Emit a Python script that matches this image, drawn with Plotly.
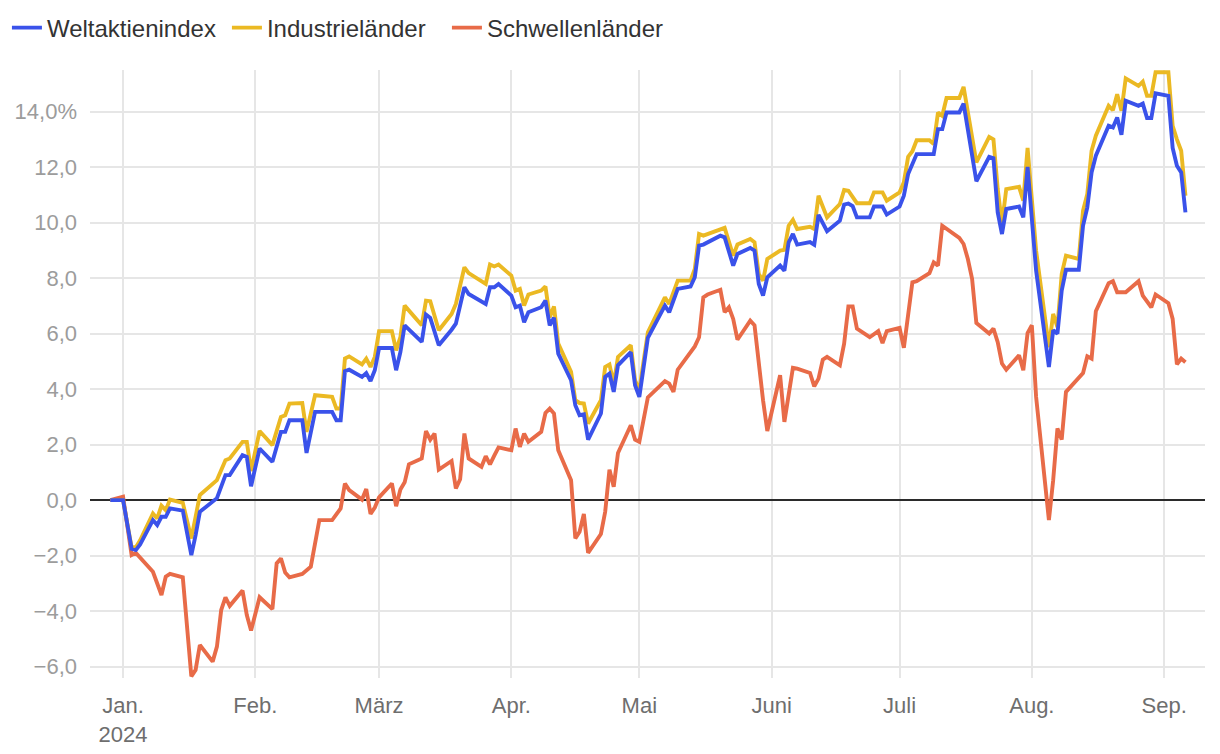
import plotly.graph_objects as go

# ---- data (percent change since end of 2023) ----
dates_dm = [
    "2023-12-29", "2024-01-01", "2024-01-03", "2024-01-04", "2024-01-05", "2024-01-08", "2024-01-09",
    "2024-01-10", "2024-01-11", "2024-01-12", "2024-01-15", "2024-01-17", "2024-01-18", "2024-01-19",
    "2024-01-23", "2024-01-25", "2024-01-26", "2024-01-29", "2024-01-30", "2024-01-31",
    "2024-02-02", "2024-02-05", "2024-02-07", "2024-02-08", "2024-02-09", "2024-02-12", "2024-02-13",
    "2024-02-15", "2024-02-19", "2024-02-20", "2024-02-21", "2024-02-22", "2024-02-23", "2024-02-26",
    "2024-02-27", "2024-02-28", "2024-02-29",
    "2024-03-01", "2024-03-04", "2024-03-05", "2024-03-06", "2024-03-07", "2024-03-11", "2024-03-12",
    "2024-03-13", "2024-03-15", "2024-03-18", "2024-03-19", "2024-03-21", "2024-03-22", "2024-03-26",
    "2024-03-27", "2024-03-28", "2024-03-29",
    "2024-04-01", "2024-04-02", "2024-04-03", "2024-04-04", "2024-04-05", "2024-04-08", "2024-04-09",
    "2024-04-10", "2024-04-11", "2024-04-12", "2024-04-15", "2024-04-16", "2024-04-17", "2024-04-18",
    "2024-04-19", "2024-04-22", "2024-04-23", "2024-04-24", "2024-04-25", "2024-04-26", "2024-04-29",
    "2024-04-30",
    "2024-05-01", "2024-05-03", "2024-05-07", "2024-05-08", "2024-05-10", "2024-05-13", "2024-05-14",
    "2024-05-15", "2024-05-16", "2024-05-20", "2024-05-21", "2024-05-23", "2024-05-24", "2024-05-27",
    "2024-05-28", "2024-05-29", "2024-05-30", "2024-05-31",
    "2024-06-03", "2024-06-04", "2024-06-05", "2024-06-06", "2024-06-07", "2024-06-10", "2024-06-11",
    "2024-06-12", "2024-06-14", "2024-06-17", "2024-06-18", "2024-06-19", "2024-06-20", "2024-06-21",
    "2024-06-24", "2024-06-25", "2024-06-27", "2024-06-28",
    "2024-07-01", "2024-07-02", "2024-07-03", "2024-07-04", "2024-07-05", "2024-07-08", "2024-07-09",
    "2024-07-10", "2024-07-11", "2024-07-12", "2024-07-15", "2024-07-16", "2024-07-19", "2024-07-22",
    "2024-07-23", "2024-07-24", "2024-07-25", "2024-07-26", "2024-07-29", "2024-07-30", "2024-07-31",
    "2024-08-02", "2024-08-05", "2024-08-06", "2024-08-07", "2024-08-08", "2024-08-09", "2024-08-12",
    "2024-08-13", "2024-08-14", "2024-08-15", "2024-08-16", "2024-08-19", "2024-08-20", "2024-08-21",
    "2024-08-22", "2024-08-23", "2024-08-26", "2024-08-27", "2024-08-28", "2024-08-29", "2024-08-30",
    "2024-09-02", "2024-09-03", "2024-09-04", "2024-09-05", "2024-09-06",
]

welt = [
    0.0, 0.0, -1.75, -1.8, -1.6, -0.72, -0.9,
    -0.6, -0.6, -0.3, -0.38, -1.98, -1.26, -0.42,
    0.07, 0.9, 0.9, 1.62, 1.56, 0.5,
    1.86, 1.38, 2.46, 2.46, 2.88, 2.88, 1.70,
    3.18, 3.18, 2.88, 2.88, 4.65, 4.70, 4.44,
    4.58, 4.29, 4.68,
    5.48, 5.48, 4.68, 5.33, 6.3, 5.7, 6.69,
    6.57, 5.58, 6.14, 6.36, 7.67, 7.43, 7.07,
    7.67, 7.67, 7.79,
    7.37, 6.95, 7.01, 6.41, 6.77, 6.95, 7.19,
    6.3, 6.57, 5.28, 4.32, 3.42, 3.06, 3.09,
    2.18, 3.12, 4.44, 4.56, 3.9, 4.86, 5.33,
    4.14,
    3.72, 5.85, 7.01, 6.77, 7.61, 7.7, 8.03,
    9.17, 9.21, 9.53, 9.47, 8.45, 8.87, 9.09,
    8.99, 7.79, 7.37, 8.03,
    8.45, 8.27, 9.29, 9.59, 9.21, 9.3, 9.2,
    10.28, 9.69, 10.07, 10.65, 10.69, 10.6, 10.19,
    10.19, 10.58, 10.58, 10.29,
    10.58, 10.97, 11.75, 12.1, 12.47, 12.47, 12.47,
    13.37, 13.37, 13.97, 13.97, 14.29, 11.49, 12.37,
    12.32, 10.37, 9.59, 10.49, 10.58, 10.19, 12.01,
    8.27, 4.8, 6.12, 6.0, 7.55, 8.3, 8.3,
    9.89, 10.55, 11.81, 12.41, 13.49, 13.43, 13.79,
    13.17, 14.39, 14.21, 14.29, 13.77, 13.77, 14.66,
    14.57, 12.69, 12.05, 11.81, 10.37,
]

industrie = [
    0.0, 0.0, -1.7, -1.7, -1.45, -0.48, -0.66,
    -0.2, -0.36, 0.02, -0.1, -1.38, -0.6, 0.18,
    0.72, 1.44, 1.5, 2.1, 2.1, 1.05,
    2.49, 1.98, 3.0, 3.06, 3.48, 3.5, 2.46,
    3.78, 3.72, 3.3, 3.3, 5.1, 5.18, 4.89,
    5.1, 4.8, 5.16,
    6.09, 6.09, 5.4, 5.87, 7.01, 6.3, 7.19,
    7.17, 6.12, 6.71, 7.07, 8.39, 8.18, 7.79,
    8.49, 8.42, 8.49,
    8.09, 7.55, 7.61, 7.01, 7.41, 7.55, 7.7,
    6.59, 6.98, 5.64, 4.62, 3.6, 3.5, 3.48,
    2.76, 3.6, 4.8, 4.89, 4.2, 5.16, 5.58,
    4.32,
    3.96, 6.05, 7.31, 7.07, 7.91, 7.91, 8.33,
    9.59, 9.53, 9.74, 9.81, 8.81, 9.21, 9.41,
    9.29, 8.15, 7.91, 8.69,
    8.99, 9.02, 9.89, 10.1, 9.77, 9.85, 9.77,
    10.97, 10.19, 10.67, 11.18, 11.15, 10.95, 10.7,
    10.7, 11.09, 11.09, 10.79,
    11.09, 11.45, 12.37, 12.57, 12.97, 12.97, 12.83,
    13.97, 13.85, 14.49, 14.49, 14.89, 12.17, 13.09,
    13.0, 11.21, 9.95, 11.21, 11.29, 10.79, 12.69,
    8.99, 5.51, 6.71, 6.23, 8.15, 8.81, 8.69,
    10.43, 11.03, 12.59, 13.13, 14.21, 14.05, 14.63,
    14.03, 15.2, 14.93, 15.08, 14.57, 14.57, 15.42,
    15.42, 13.49, 13.0, 12.59, 10.97,
]

dates_em = [
    "2023-12-29", "2024-01-01", "2024-01-03", "2024-01-04", "2024-01-08", "2024-01-10", "2024-01-11",
    "2024-01-12", "2024-01-15", "2024-01-17", "2024-01-18", "2024-01-19", "2024-01-22", "2024-01-23",
    "2024-01-24", "2024-01-25", "2024-01-26", "2024-01-29", "2024-01-30", "2024-01-31",
    "2024-02-02", "2024-02-05", "2024-02-06", "2024-02-07", "2024-02-08", "2024-02-09", "2024-02-12",
    "2024-02-14", "2024-02-16", "2024-02-19", "2024-02-21", "2024-02-22", "2024-02-23", "2024-02-26",
    "2024-02-27", "2024-02-28", "2024-02-29",
    "2024-03-01", "2024-03-04", "2024-03-05", "2024-03-06", "2024-03-07", "2024-03-08", "2024-03-11",
    "2024-03-12", "2024-03-13", "2024-03-14", "2024-03-15", "2024-03-18", "2024-03-19", "2024-03-20",
    "2024-03-21", "2024-03-22", "2024-03-25", "2024-03-26", "2024-03-27", "2024-03-28", "2024-03-29",
    "2024-04-01", "2024-04-02", "2024-04-03", "2024-04-04", "2024-04-05", "2024-04-08", "2024-04-09",
    "2024-04-10", "2024-04-11", "2024-04-12", "2024-04-15", "2024-04-16", "2024-04-17", "2024-04-18",
    "2024-04-19", "2024-04-22", "2024-04-23", "2024-04-24", "2024-04-25", "2024-04-26", "2024-04-29",
    "2024-04-30",
    "2024-05-01", "2024-05-03", "2024-05-07", "2024-05-08", "2024-05-09", "2024-05-10", "2024-05-14",
    "2024-05-15", "2024-05-16", "2024-05-17", "2024-05-20", "2024-05-21", "2024-05-22", "2024-05-23",
    "2024-05-24", "2024-05-27", "2024-05-28", "2024-05-29", "2024-05-30", "2024-05-31",
    "2024-06-03", "2024-06-04", "2024-06-06", "2024-06-07", "2024-06-10", "2024-06-11", "2024-06-12",
    "2024-06-13", "2024-06-14", "2024-06-17", "2024-06-18", "2024-06-19", "2024-06-20", "2024-06-21",
    "2024-06-24", "2024-06-26", "2024-06-27", "2024-06-28",
    "2024-07-01", "2024-07-02", "2024-07-04", "2024-07-05", "2024-07-08", "2024-07-09", "2024-07-10",
    "2024-07-11", "2024-07-15", "2024-07-16", "2024-07-17", "2024-07-18", "2024-07-19", "2024-07-22",
    "2024-07-23", "2024-07-24", "2024-07-25", "2024-07-26", "2024-07-29", "2024-07-30", "2024-07-31",
    "2024-08-01", "2024-08-02", "2024-08-05", "2024-08-06", "2024-08-07", "2024-08-08", "2024-08-09",
    "2024-08-13", "2024-08-14", "2024-08-15", "2024-08-16", "2024-08-19", "2024-08-20", "2024-08-21",
    "2024-08-23", "2024-08-26", "2024-08-27", "2024-08-28", "2024-08-29", "2024-08-30",
    "2024-09-02", "2024-09-03", "2024-09-04", "2024-09-05", "2024-09-06",
]

schwellen = [
    0.0, 0.12, -1.98, -1.9, -2.58, -3.42, -2.76,
    -2.66, -2.78, -6.35, -6.12, -5.22, -5.82, -5.28,
    -3.96, -3.5, -3.81, -3.26, -4.14, -4.7,
    -3.5, -3.93, -2.28, -2.1, -2.61, -2.78, -2.66,
    -2.4, -0.72, -0.72, -0.3, 0.6, 0.36, 0.02,
    0.4, -0.5, -0.27,
    0.1, 0.6, -0.22, 0.38, 0.64, 1.29, 1.5,
    2.49, 2.18, 2.4, 1.1, 1.41, 0.42, 0.75,
    2.4, 1.5, 1.2, 1.58, 1.29, 1.6, 1.9,
    1.8, 2.58, 1.92, 2.4, 2.1, 2.46, 3.14,
    3.3, 3.12, 1.8, 0.72, -1.38, -1.14, -0.5,
    -1.9, -1.22, -0.42, 1.1, 0.48, 1.7, 2.7,
    2.18,
    2.1, 3.7, 4.29, 4.2, 3.9, 4.7, 5.54,
    5.87, 7.31, 7.41, 7.58, 6.77, 6.95, 6.53,
    5.78, 6.47, 6.3, 4.9, 3.6, 2.49,
    4.5, 2.82, 4.77, 4.74, 4.58, 4.1, 4.38,
    5.06, 5.16, 4.86, 5.64, 6.98, 6.98, 6.18,
    5.87, 6.09, 5.66, 6.09,
    6.21, 5.49, 7.85, 7.89, 8.18, 8.57, 8.45,
    9.89, 9.45, 9.23, 8.69, 7.97, 6.38, 6.0,
    6.18, 5.69, 4.92, 4.7, 5.22, 4.68, 6.02,
    6.3, 3.72, -0.72, 0.72, 2.58, 2.18, 3.9,
    4.58, 5.18, 5.1, 6.81, 7.82, 7.89, 7.49,
    7.49, 7.89, 7.37, 7.15, 6.95, 7.41,
    7.1, 6.53, 4.89, 5.1, 4.97,
]

assert len(dates_dm) == len(welt) == len(industrie)
assert len(dates_em) == len(schwellen)

month_ticks = ["2024-01-01", "2024-02-01", "2024-03-01", "2024-04-01", "2024-05-01",
               "2024-06-01", "2024-07-01", "2024-08-01", "2024-09-01"]
month_labels = ["Jan.<br>2024", "Feb.", "März", "Apr.", "Mai", "Juni", "Juli", "Aug.", "Sep."]
y_ticks = [-6, -4, -2, 0, 2, 4, 6, 8, 10, 12, 14]
y_labels = ["\u22126,0", "\u22124,0", "\u22122,0", "0,0", "2,0", "4,0", "6,0", "8,0",
            "10,0", "12,0", "14,0%"]

FONT = "Liberation Sans, Arial, Helvetica, sans-serif"

fig = go.Figure()
fig.add_trace(go.Scatter(x=dates_em, y=schwellen, name="Schwellenländer", mode="lines",
                         line=dict(color="#E86B48", width=3.9)))
fig.add_trace(go.Scatter(x=dates_dm, y=industrie, name="Industrieländer", mode="lines",
                         line=dict(color="#EBB923", width=3.9)))
fig.add_trace(go.Scatter(x=dates_dm, y=welt, name="Weltaktienindex", mode="lines",
                         line=dict(color="#3A52EA", width=3.9)))

fig.update_layout(
    width=1220, height=754,
    margin=dict(l=82, r=23, t=62, b=84, autoexpand=False),
    paper_bgcolor="white", plot_bgcolor="white",
    font=dict(family=FONT, size=22, color="#333333"),
    showlegend=True,
    legend=dict(orientation="h", traceorder="reversed", x=-0.0745, xanchor="left",
                y=1.069, yanchor="middle", font=dict(size=24, color="#333333"),
                bgcolor="rgba(0,0,0,0)", itemwidth=30,
                entrywidth=175, entrywidthmode="pixels"),
    hovermode="x unified",
)
fig.update_xaxes(
    type="date", range=["2023-12-24 06:00", "2024-09-10 14:00"],
    tickmode="array", tickvals=month_ticks, ticktext=month_labels,
    showgrid=True, gridcolor="#E6E6E6", gridwidth=1.5,
    showline=False, zeroline=False, ticks="", automargin=False,
    ticklabelstandoff=12,
    tickfont=dict(size=22, color="#6E6E6E"),
)
fig.update_yaxes(
    range=[-6.41, 15.5],
    tickmode="array", tickvals=y_ticks, ticktext=y_labels,
    showgrid=True, gridcolor="#E6E6E6", gridwidth=1.5,
    zeroline=True, zerolinecolor="#2B2B2B", zerolinewidth=2,
    showline=False, ticks="", ticklabelstandoff=12, automargin=False,
    tickfont=dict(size=22, color="#9C9C9C"),
)

fig.write_html("out.html")
